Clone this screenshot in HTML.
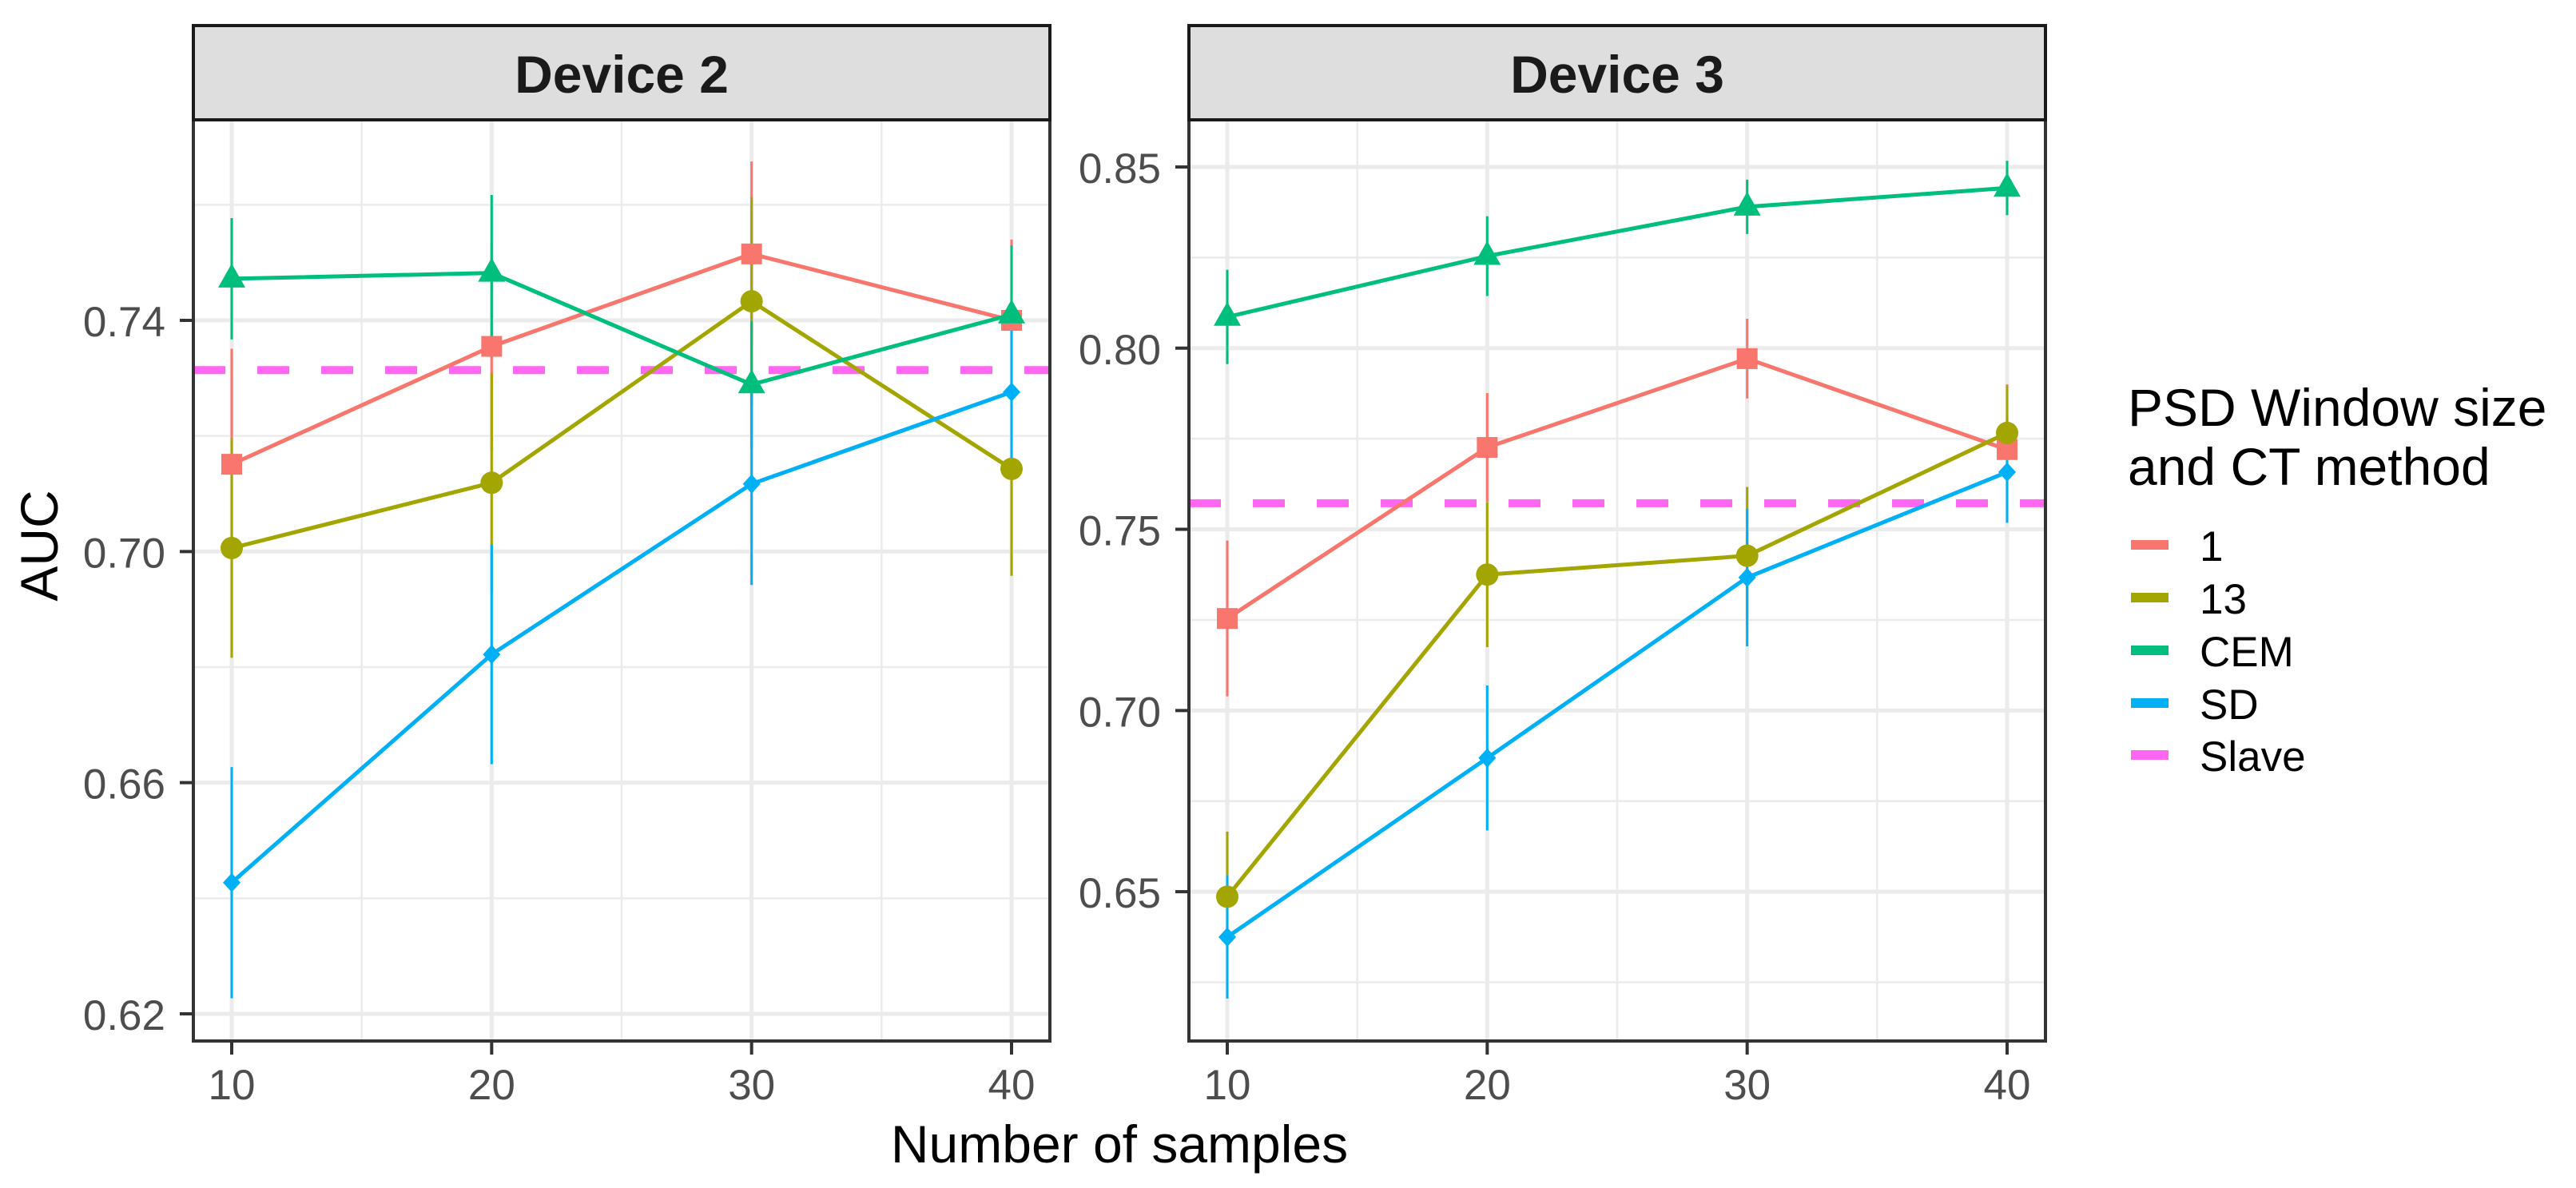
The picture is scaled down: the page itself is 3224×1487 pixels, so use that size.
<!DOCTYPE html>
<html><head><meta charset="utf-8"><style>
html,body{margin:0;padding:0;background:#fff;}
svg{display:block;font-family:"Liberation Sans",Arial,sans-serif;}
</style></head><body>
<svg id="chart" width="3224" height="1487" viewBox="0 0 3224 1487" xmlns="http://www.w3.org/2000/svg"></svg>
<script>
const samples = [10, 20, 30, 40];
const seriesNames = ["1", "13", "CEM", "SD"];
const seriesColors = ["#F8766D", "#A3A500", "#00BF7D", "#00B0F6"];
const slaveColor = "#FF66F2";
// Device 2
const d2_one = [0.7151, 0.7355, 0.7515, 0.7400];
const d2_one_err = [0.020, 0.018, 0.016, 0.014];
const d2_13 = [0.7006, 0.7119, 0.7433, 0.7143];
const d2_13_err = [0.019, 0.019, 0.018, 0.0185];
const d2_cem = [0.7472, 0.7482, 0.7289, 0.7410];
const d2_cem_err = [0.0105, 0.0135, 0.011, 0.012];
const d2_sd = [0.6427, 0.6822, 0.7117, 0.7276];
const d2_sd_err = [0.020, 0.019, 0.0175, 0.015];
const d2_slave = 0.7314;
const d2_ticks = [0.62, 0.66, 0.70, 0.74];
const d2_minor = [0.64, 0.68, 0.72, 0.76];
// Device 3
const d3_one = [0.7254, 0.7726, 0.7971, 0.7720];
const d3_one_err = [0.0215, 0.015, 0.011, 0.018];
const d3_13 = [0.6486, 0.7375, 0.7427, 0.7766];
const d3_13_err = [0.018, 0.020, 0.019, 0.013];
const d3_cem = [0.8086, 0.8254, 0.8390, 0.8442];
const d3_cem_err = [0.013, 0.011, 0.0075, 0.0075];
const d3_sd = [0.6375, 0.6869, 0.7367, 0.7658];
const d3_sd_err = [0.017, 0.020, 0.019, 0.014];
const d3_slave = 0.7572;
const d3_ticks = [0.65, 0.70, 0.75, 0.80, 0.85];
const d3_minor = [0.625, 0.675, 0.725, 0.775, 0.825];
const xMinor = [15, 25, 35];

const NS = "http://www.w3.org/2000/svg";
const svg = document.getElementById("chart");
function mk(tag, attrs, parent){const e=document.createElementNS(NS,tag);for(const k in attrs)e.setAttribute(k,attrs[k]);(parent||svg).appendChild(e);return e;}

function panel(cfg){
  const {left,right,top,bottom,ymin,ymax,title,data,errs,slave,ticks,minor,key}=cfg;
  const g=mk("g",{});
  
  
  const xs=v=>left+48+(v-10)/30*(right-left-96);
  const ys=v=>bottom-(v-ymin)/(ymax-ymin)*(bottom-top);
  const clip=mk("clipPath",{id:key+"clip"},g);
  mk("rect",{x:left,y:top,width:right-left,height:bottom-top},clip);
  minor.forEach(v=>{const l=mk("line",{x1:left,x2:right,y1:ys(v),y2:ys(v),stroke:"#EBEBEB","stroke-width":2.5},g);
    });
  xMinor.forEach(v=>{const l=mk("line",{x1:xs(v),x2:xs(v),y1:top,y2:bottom,stroke:"#EBEBEB","stroke-width":2.5},g);
    });
  ticks.forEach(v=>{const l=mk("line",{x1:left,x2:right,y1:ys(v),y2:ys(v),stroke:"#EBEBEB","stroke-width":5},g);
    
    const tk=mk("line",{x1:left-17,x2:left,y1:ys(v),y2:ys(v),stroke:"#333","stroke-width":4},g);
    
    const t=mk("text",{x:left-35,y:ys(v)+20,"text-anchor":"end","font-size":53,fill:"#4D4D4D"},g);t.textContent=v.toFixed(2);
    });
  samples.forEach(v=>{const l=mk("line",{x1:xs(v),x2:xs(v),y1:top,y2:bottom,stroke:"#EBEBEB","stroke-width":5},g);
    
    const tk=mk("line",{x1:xs(v),x2:xs(v),y1:bottom,y2:bottom+17,stroke:"#333","stroke-width":4},g);
    
    const t=mk("text",{x:xs(v),y:1376,"text-anchor":"middle","font-size":53,fill:"#4D4D4D"},g);t.textContent=v;
    });
  const pg=mk("g",{"clip-path":"url(#"+key+"clip)"},g);
  const sl=mk("line",{x1:left,x2:right,y1:ys(slave),y2:ys(slave),stroke:slaveColor,"stroke-width":10,"stroke-dasharray":"40 40"},pg);
  
  data.forEach((arr,si)=>{
    const c=seriesColors[si];
    arr.forEach((v,i)=>{const e=mk("line",{x1:xs(samples[i]),x2:xs(samples[i]),y1:ys(v-errs[si][i]),y2:ys(v+errs[si][i]),stroke:c,"stroke-width":3},pg);
      });
  });
  data.forEach((arr,si)=>{
    const c=seriesColors[si];
    const p=mk("polyline",{points:arr.map((v,i)=>xs(samples[i])+","+ys(v)).join(" "),fill:"none",stroke:c,"stroke-width":5},pg);
    
    arr.forEach((v,i)=>{const x=xs(samples[i]),y=ys(v);let m;
      if(si===0)m=mk("rect",{x:x-13,y:y-13,width:26,height:26,fill:c},pg);
      else if(si===1)m=mk("circle",{cx:x,cy:y,r:14,fill:c},pg);
      else if(si===2)m=mk("polygon",{points:`${x},${y-19} ${x+17},${y+11} ${x-17},${y+11}`,fill:c},pg);
      else m=mk("polygon",{points:`${x},${y-12} ${x+11},${y} ${x},${y+12} ${x-11},${y}`,fill:c},pg);
      });
  });
  const b=mk("rect",{x:left,y:top,width:right-left,height:bottom-top,fill:"none",stroke:"#333","stroke-width":4},g);
  
  const s=mk("rect",{x:left,y:32,width:right-left,height:top-32,fill:"#DEDEDE",stroke:"#1A1A1A","stroke-width":4},g);
  
  const st=mk("text",{x:(left+right)/2,y:116,"text-anchor":"middle","font-size":66,"font-weight":"bold",fill:"#1A1A1A"},g);st.textContent=title;
  
}
panel({key:"device2",left:242,right:1314,top:150,bottom:1303,ymin:0.6153,ymax:0.7747,title:"Device 2",
  data:[d2_one,d2_13,d2_cem,d2_sd],errs:[d2_one_err,d2_13_err,d2_cem_err,d2_sd_err],slave:d2_slave,ticks:d2_ticks,minor:d2_minor});
panel({key:"device3",left:1488,right:2560,top:150,bottom:1303,ymin:0.6088,ymax:0.863,title:"Device 3",
  data:[d3_one,d3_13,d3_cem,d3_sd],errs:[d3_one_err,d3_13_err,d3_cem_err,d3_sd_err],slave:d3_slave,ticks:d3_ticks,minor:d3_minor});

const xt=mk("text",{x:1401,y:1455,"text-anchor":"middle","font-size":66,fill:"#000"});xt.textContent="Number of samples";

const yt=mk("text",{x:0,y:0,"text-anchor":"middle","font-size":66,fill:"#000",transform:"translate(72,683) rotate(-90)"});yt.textContent="AUC";


const lg=mk("g",{});


const lt1=mk("text",{x:2663,y:533,"font-size":66,fill:"#000"},lg);lt1.textContent="PSD Window size";

const lt2=mk("text",{x:2663,y:607,"font-size":66,fill:"#000"},lg);lt2.textContent="and CT method";

const legNames=["1","13","CEM","SD","Slave"];
const legColors=seriesColors.concat([slaveColor]);
const legY=[682,748,814,880,945];
legNames.forEach((n,i)=>{
  const l=mk("line",{x1:2667,x2:2714,y1:legY[i],y2:legY[i],stroke:legColors[i],"stroke-width":12},lg);
  
  const t=mk("text",{x:2753,y:legY[i]+20,"font-size":53,fill:"#000"},lg);t.textContent=n;
  
});
</script>
</body></html>
